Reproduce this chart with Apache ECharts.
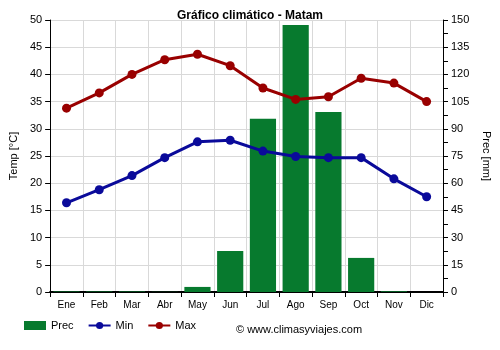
<!DOCTYPE html>
<html>
<head>
<meta charset="utf-8">
<script src="https://cdn.jsdelivr.net/npm/echarts@6/dist/echarts.min.js"></script>
<style>
  html, body { margin: 0; padding: 0; background: #fff; }
  #chart { width: 500px; height: 350px; }
</style>
</head>
<body>
<div id="chart"></div>
<script>
// Monthly climate data for Matam
var months = ['Ene', 'Feb', 'Mar', 'Abr', 'May', 'Jun', 'Jul', 'Ago', 'Sep', 'Oct', 'Nov', 'Dic'];
var precip = [0.3, 0.3, 0.3, 0.1, 2.8, 22.6, 95.5, 147.3, 99.3, 18.8, 0.4, 0];
var tempMin = [16.4, 18.8, 21.4, 24.7, 27.6, 27.9, 25.9, 24.9, 24.7, 24.7, 20.8, 17.5];
var tempMax = [33.8, 36.6, 40.0, 42.7, 43.7, 41.6, 37.5, 35.4, 35.9, 39.3, 38.4, 35.0];

var font = '"Liberation Sans", Arial, sans-serif';
var chart = echarts.init(document.getElementById('chart'), null, { renderer: 'canvas' });

chart.setOption({
  animation: false,
  backgroundColor: '#ffffff',
  title: {
    text: 'Gráfico climático - Matam',
    left: 'center',
    top: 5,
    textStyle: { fontFamily: font, fontSize: 12, fontWeight: 'bold', color: '#000' }
  },
  grid: { left: 49, right: 55, top: 20, bottom: 58 },
  legend: {
    bottom: 14,
    left: 19,
    itemGap: 14,
    itemWidth: 22,
    itemHeight: 9,
    textStyle: { fontFamily: font, fontSize: 11, color: '#000' },
    data: [
      { name: 'Prec', icon: 'rect' },
      { name: 'Min' },
      { name: 'Max' }
    ]
  },
  graphic: [{
    type: 'text',
    left: 236,
    bottom: 15,
    style: { text: '© www.climasyviajes.com', fontFamily: font, fontSize: 11, fill: '#000' }
  }],
  xAxis: {
    type: 'category',
    data: months,
    boundaryGap: true,
    axisLine: { lineStyle: { color: '#000', width: 2 } },
    axisTick: { show: true, alignWithLabel: false, lineStyle: { color: '#000' } },
    axisLabel: { fontFamily: font, fontSize: 10, color: '#000', margin: 8 },
    splitLine: { show: true, lineStyle: { color: '#d9d9d9' } }
  },
  yAxis: [{
    type: 'value',
    min: 0, max: 50, interval: 5,
    name: 'Temp [°C]',
    nameLocation: 'middle',
    nameGap: 30,
    nameRotate: 90,
    nameTextStyle: { fontFamily: font, fontSize: 11, color: '#000' },
    axisLine: { show: true, lineStyle: { color: '#000' } },
    axisTick: { show: true, lineStyle: { color: '#000' } },
    axisLabel: { fontFamily: font, fontSize: 11, color: '#000' },
    splitLine: { show: true, lineStyle: { color: '#d9d9d9' } }
  }, {
    type: 'value',
    min: 0, max: 150, interval: 15,
    name: 'Prec [mm]',
    nameLocation: 'middle',
    nameGap: 38,
    nameRotate: -90,
    nameTextStyle: { fontFamily: font, fontSize: 11, color: '#000' },
    axisLine: { show: true, lineStyle: { color: '#000' } },
    axisTick: { show: true, lineStyle: { color: '#000' } },
    minorTick: { show: true, splitNumber: 2, length: 5, lineStyle: { color: '#000' } },
    axisLabel: { fontFamily: font, fontSize: 11, color: '#000' },
    splitLine: { show: false }
  }],
  series: [{
    name: 'Prec',
    type: 'bar',
    yAxisIndex: 1,
    data: precip,
    barWidth: '80%',
    itemStyle: { color: '#077a2e' }
  }, {
    name: 'Min',
    type: 'line',
    yAxisIndex: 0,
    data: tempMin,
    symbol: 'circle',
    symbolSize: 9,
    lineStyle: { color: '#0a0a9a', width: 3 },
    itemStyle: { color: '#0a0a9a' }
  }, {
    name: 'Max',
    type: 'line',
    yAxisIndex: 0,
    data: tempMax,
    symbol: 'circle',
    symbolSize: 9,
    lineStyle: { color: '#990000', width: 3 },
    itemStyle: { color: '#990000' }
  }]
});
</script>
</body>
</html>
